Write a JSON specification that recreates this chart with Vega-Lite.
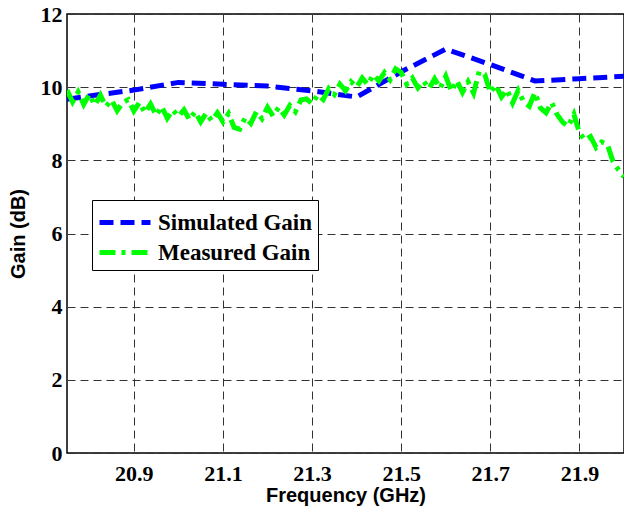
{
  "$schema": "https://vega.github.io/schema/vega-lite/v6.json",
  "autosize": "none",
  "width": 557,
  "height": 439,
  "padding": {"left": 67, "top": 14, "right": 0, "bottom": 57},
  "background": "white",
  "config": {
    "view": {"stroke": "#000", "strokeWidth": 1.5},
    "axis": {
      "labelFont": "Liberation Serif",
      "labelFontWeight": "bold",
      "labelFontSize": 22,
      "labelColor": "#000",
      "titleFont": "Liberation Sans",
      "titleFontWeight": "bold",
      "titleFontSize": 20,
      "titleColor": "#000",
      "ticks": false,
      "domain": false,
      "grid": true,
      "gridDash": [8, 5],
      "gridColor": "#333",
      "gridOpacity": 1,
      "gridWidth": 1
    },
    "legend": {
      "labelFont": "Liberation Serif",
      "labelFontWeight": "bold",
      "labelFontSize": 23,
      "labelColor": "#000"
    }
  },
  "datasets": {
    "sim": [
      {"series": "Simulated Gain", "f": 20.75, "g": 9.67},
      {"series": "Simulated Gain", "f": 20.8, "g": 9.76},
      {"series": "Simulated Gain", "f": 20.9, "g": 9.92},
      {"series": "Simulated Gain", "f": 21.0, "g": 10.13},
      {"series": "Simulated Gain", "f": 21.1, "g": 10.08},
      {"series": "Simulated Gain", "f": 21.2, "g": 10.03},
      {"series": "Simulated Gain", "f": 21.3, "g": 9.9},
      {"series": "Simulated Gain", "f": 21.4, "g": 9.73},
      {"series": "Simulated Gain", "f": 21.5, "g": 10.42},
      {"series": "Simulated Gain", "f": 21.6, "g": 11.04},
      {"series": "Simulated Gain", "f": 21.7, "g": 10.62},
      {"series": "Simulated Gain", "f": 21.8, "g": 10.17},
      {"series": "Simulated Gain", "f": 21.9, "g": 10.23},
      {"series": "Simulated Gain", "f": 22.0, "g": 10.3}
    ],
    "meas": [
      {"series": "Measured Gain", "f": 20.75, "g": 9.92},
      {"series": "Measured Gain", "f": 20.7625, "g": 9.6},
      {"series": "Measured Gain", "f": 20.775, "g": 9.87},
      {"series": "Measured Gain", "f": 20.7875, "g": 9.53},
      {"series": "Measured Gain", "f": 20.8, "g": 9.8},
      {"series": "Measured Gain", "f": 20.8125, "g": 9.51},
      {"series": "Measured Gain", "f": 20.825, "g": 9.78},
      {"series": "Measured Gain", "f": 20.8375, "g": 9.47},
      {"series": "Measured Gain", "f": 20.85, "g": 9.65},
      {"series": "Measured Gain", "f": 20.8625, "g": 9.36},
      {"series": "Measured Gain", "f": 20.875, "g": 9.58},
      {"series": "Measured Gain", "f": 20.8875, "g": 9.66},
      {"series": "Measured Gain", "f": 20.9, "g": 9.35},
      {"series": "Measured Gain", "f": 20.9125, "g": 9.58},
      {"series": "Measured Gain", "f": 20.925, "g": 9.3},
      {"series": "Measured Gain", "f": 20.9375, "g": 9.54},
      {"series": "Measured Gain", "f": 20.95, "g": 9.23},
      {"series": "Measured Gain", "f": 20.9625, "g": 9.47},
      {"series": "Measured Gain", "f": 20.975, "g": 9.15},
      {"series": "Measured Gain", "f": 20.9875, "g": 9.38},
      {"series": "Measured Gain", "f": 21.0, "g": 9.2},
      {"series": "Measured Gain", "f": 21.0125, "g": 9.38},
      {"series": "Measured Gain", "f": 21.025, "g": 9.11},
      {"series": "Measured Gain", "f": 21.0375, "g": 9.33},
      {"series": "Measured Gain", "f": 21.05, "g": 9.05},
      {"series": "Measured Gain", "f": 21.0625, "g": 9.29},
      {"series": "Measured Gain", "f": 21.075, "g": 9.08},
      {"series": "Measured Gain", "f": 21.0875, "g": 9.3},
      {"series": "Measured Gain", "f": 21.1, "g": 9.05},
      {"series": "Measured Gain", "f": 21.1125, "g": 9.28},
      {"series": "Measured Gain", "f": 21.125, "g": 8.9},
      {"series": "Measured Gain", "f": 21.1375, "g": 8.85},
      {"series": "Measured Gain", "f": 21.15, "g": 9.17},
      {"series": "Measured Gain", "f": 21.1625, "g": 9.01},
      {"series": "Measured Gain", "f": 21.175, "g": 9.33},
      {"series": "Measured Gain", "f": 21.1875, "g": 9.14},
      {"series": "Measured Gain", "f": 21.2, "g": 9.45},
      {"series": "Measured Gain", "f": 21.2125, "g": 9.21},
      {"series": "Measured Gain", "f": 21.225, "g": 9.45},
      {"series": "Measured Gain", "f": 21.2375, "g": 9.24},
      {"series": "Measured Gain", "f": 21.25, "g": 9.5},
      {"series": "Measured Gain", "f": 21.2625, "g": 9.33},
      {"series": "Measured Gain", "f": 21.275, "g": 9.65},
      {"series": "Measured Gain", "f": 21.2875, "g": 9.68},
      {"series": "Measured Gain", "f": 21.3, "g": 9.55},
      {"series": "Measured Gain", "f": 21.3125, "g": 9.79},
      {"series": "Measured Gain", "f": 21.325, "g": 9.66},
      {"series": "Measured Gain", "f": 21.3375, "g": 9.96},
      {"series": "Measured Gain", "f": 21.35, "g": 9.8},
      {"series": "Measured Gain", "f": 21.3625, "g": 10.08},
      {"series": "Measured Gain", "f": 21.375, "g": 9.9},
      {"series": "Measured Gain", "f": 21.3875, "g": 10.15},
      {"series": "Measured Gain", "f": 21.4, "g": 10.0},
      {"series": "Measured Gain", "f": 21.4125, "g": 10.25},
      {"series": "Measured Gain", "f": 21.425, "g": 10.07},
      {"series": "Measured Gain", "f": 21.4375, "g": 10.34},
      {"series": "Measured Gain", "f": 21.45, "g": 10.17},
      {"series": "Measured Gain", "f": 21.4625, "g": 10.4},
      {"series": "Measured Gain", "f": 21.475, "g": 10.2},
      {"series": "Measured Gain", "f": 21.4875, "g": 10.5},
      {"series": "Measured Gain", "f": 21.5, "g": 10.4},
      {"series": "Measured Gain", "f": 21.5125, "g": 10.08},
      {"series": "Measured Gain", "f": 21.525, "g": 10.25},
      {"series": "Measured Gain", "f": 21.5375, "g": 9.98},
      {"series": "Measured Gain", "f": 21.55, "g": 10.17},
      {"series": "Measured Gain", "f": 21.5625, "g": 9.96},
      {"series": "Measured Gain", "f": 21.575, "g": 10.23},
      {"series": "Measured Gain", "f": 21.5875, "g": 9.97},
      {"series": "Measured Gain", "f": 21.6, "g": 10.3},
      {"series": "Measured Gain", "f": 21.6125, "g": 9.89},
      {"series": "Measured Gain", "f": 21.625, "g": 10.18},
      {"series": "Measured Gain", "f": 21.6375, "g": 9.86},
      {"series": "Measured Gain", "f": 21.65, "g": 10.15},
      {"series": "Measured Gain", "f": 21.6625, "g": 9.84},
      {"series": "Measured Gain", "f": 21.675, "g": 10.43},
      {"series": "Measured Gain", "f": 21.6875, "g": 10.35},
      {"series": "Measured Gain", "f": 21.7, "g": 9.85},
      {"series": "Measured Gain", "f": 21.7125, "g": 10.06},
      {"series": "Measured Gain", "f": 21.725, "g": 9.73},
      {"series": "Measured Gain", "f": 21.7375, "g": 9.93},
      {"series": "Measured Gain", "f": 21.75, "g": 9.57},
      {"series": "Measured Gain", "f": 21.7625, "g": 9.91},
      {"series": "Measured Gain", "f": 21.775, "g": 9.6},
      {"series": "Measured Gain", "f": 21.7875, "g": 9.48},
      {"series": "Measured Gain", "f": 21.8, "g": 9.85},
      {"series": "Measured Gain", "f": 21.8125, "g": 9.43},
      {"series": "Measured Gain", "f": 21.825, "g": 9.3},
      {"series": "Measured Gain", "f": 21.8375, "g": 9.58},
      {"series": "Measured Gain", "f": 21.85, "g": 9.25},
      {"series": "Measured Gain", "f": 21.8625, "g": 9.04},
      {"series": "Measured Gain", "f": 21.875, "g": 8.93},
      {"series": "Measured Gain", "f": 21.8875, "g": 9.26},
      {"series": "Measured Gain", "f": 21.9, "g": 8.75},
      {"series": "Measured Gain", "f": 21.9125, "g": 8.55},
      {"series": "Measured Gain", "f": 21.925, "g": 8.65},
      {"series": "Measured Gain", "f": 21.9375, "g": 8.35},
      {"series": "Measured Gain", "f": 21.95, "g": 8.5},
      {"series": "Measured Gain", "f": 21.9625, "g": 8.44},
      {"series": "Measured Gain", "f": 21.975, "g": 7.98},
      {"series": "Measured Gain", "f": 21.9875, "g": 7.74},
      {"series": "Measured Gain", "f": 22.0, "g": 7.55}
    ]
  },
  "encoding": {
    "x": {
      "field": "f",
      "type": "quantitative",
      "title": "Frequency (GHz)",
      "scale": {"domain": [20.75, 22.0], "nice": false, "zero": false},
      "axis": {"values": [20.9, 21.1, 21.3, 21.5, 21.7, 21.9], "format": ".1f", "labelPadding": 10, "titlePadding": 1, "labelFlush": false}
    },
    "y": {
      "field": "g",
      "type": "quantitative",
      "title": "Gain (dB)",
      "scale": {"domain": [0, 12], "nice": false},
      "axis": {"values": [0, 2, 4, 6, 8, 10, 12], "format": "d", "labelPadding": 5, "titlePadding": 12, "labelFlush": false}
    },
    "color": {
      "field": "series",
      "type": "nominal",
      "title": null,
      "scale": {"domain": ["Simulated Gain", "Measured Gain"], "range": ["#0000ff", "#00ff00"]},
      "legend": {
        "orient": "none",
        "legendX": 25,
        "legendY": 186,
        "symbolType": "M-1,0H2.4",
        "symbolSize": 900,
        "symbolStrokeWidth": 5,
        "strokeColor": "#000",
        "fillColor": "#fff",
        "padding": 5,
        "rowPadding": 0,
        "labelOffset": 26,
        "cornerRadius": 0
      }
    },
    "strokeDash": {
      "field": "series",
      "type": "nominal",
      "title": null,
      "scale": {"domain": ["Simulated Gain", "Measured Gain"], "range": [[14, 7], [16, 6, 4, 6]]}
    }
  },
  "layer": [
    {"data": {"name": "sim"}, "mark": {"type": "line", "strokeWidth": 5, "clip": true}},
    {"data": {"name": "meas"}, "mark": {"type": "line", "strokeWidth": 5, "clip": true}}
  ]
}
